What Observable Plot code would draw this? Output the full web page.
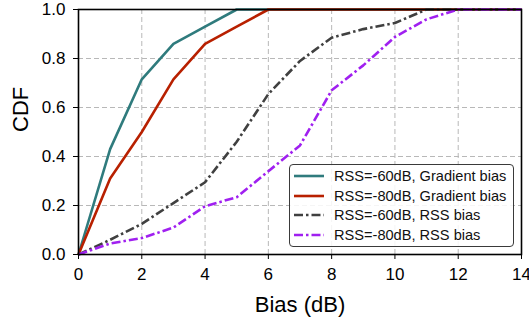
<!DOCTYPE html>
<html>
<head>
<meta charset="utf-8">
<script src="https://cdn.jsdelivr.net/npm/d3@7"></script>
<script src="https://cdn.jsdelivr.net/npm/@observablehq/plot@0.6"></script>
<style>
  html, body { margin: 0; padding: 0; background: white; }
  #wrap { position: relative; width: 529px; height: 322px; font-family: "Liberation Sans", Arial, sans-serif; }
  #legend { position: absolute; left: 289px; top: 164px; width: 223px; height: 81px;
    border: 1px solid #3a3a3a; border-radius: 4px; background: rgba(255,255,255,0.85); box-sizing: content-box; }
  .row { position: absolute; left: 0; height: 20px; display: flex; align-items: center; }
  .row svg { margin-left: 4px; margin-right: 10px; }
  .row span { font-size: 14.6px; color: #111; white-space: nowrap; }
</style>
</head>
<body>
<div id="wrap"></div>
<script>
const bias = [0,1,2,3,4,5,6,7,8,9,10,11,12,13,14];
const grad60 = [0,0.43,0.715,0.86,0.93,1,1,1,1,1,1,1,1,1,1];
const grad80 = [0,0.31,0.5,0.715,0.86,0.93,1,1,1,1,1,1,1,1,1];
const rss60  = [0,0.06,0.125,0.21,0.295,0.46,0.655,0.79,0.885,0.92,0.945,1,1,1,1];
const rss80  = [0,0.045,0.067,0.11,0.197,0.234,0.34,0.445,0.67,0.772,0.888,0.96,1,1,1];
const seriesNames = ["RSS=-60dB, Gradient bias","RSS=-80dB, Gradient bias","RSS=-60dB, RSS bias","RSS=-80dB, RSS bias"];
const seriesValues = [grad60, grad80, rss60, rss80];
const seriesColors = ["#2f7b7d","#b82000","#404040","#a020f0"];
const seriesDash = [null, null, "9,3,2.5,3", "9,3,2.5,3"];
const xTicks = [0,2,4,6,8,10,12,14];
const yTicks = [0,0.2,0.4,0.6,0.8,1.0];

const rows = [];
seriesValues.forEach((vals, i) => vals.forEach((v, j) => rows.push({s: i, x: bias[j], y: v})));

const lineMarks = seriesValues.map((_, i) =>
  Plot.line(rows.filter(d => d.s === i), {x: "x", y: "y", stroke: seriesColors[i], strokeWidth: 2.6,
    strokeDasharray: seriesDash[i] || undefined, strokeLinejoin: "round", strokeLinecap: "butt"}));

const chart = Plot.plot({
  width: 529, height: 322,
  marginLeft: 78, marginRight: 8, marginTop: 9, marginBottom: 68,
  x: {domain: [0, 14]},
  y: {domain: [0, 1]},
  style: {fontFamily: "Liberation Sans, Arial, sans-serif", fontSize: "17px", color: "black", background: "white", overflow: "visible"},
  marks: [
    Plot.gridX(xTicks, {stroke: "#b8b8b8", strokeOpacity: 1, strokeDasharray: "5,3", strokeWidth: 1}),
    Plot.gridY(yTicks, {stroke: "#b8b8b8", strokeOpacity: 1, strokeDasharray: "5,3", strokeWidth: 1}),
    ...lineMarks,
    Plot.frame({stroke: "black", strokeWidth: 1.6}),
    Plot.axisX({ticks: xTicks, tickSize: 5, tickPadding: 8, tickFormat: d => String(d), label: null, fontSize: 17}),
    Plot.axisY({ticks: yTicks, tickSize: 5, tickPadding: 8, tickFormat: d3.format(".1f"), label: null, fontSize: 17}),
    Plot.text(["Bias (dB)"], {frameAnchor: "bottom", lineAnchor: "middle", dy: 50, fontSize: 22, fill: "black"}),
    Plot.text(["CDF"], {frameAnchor: "left", rotate: -90, dx: -58, fontSize: 22, fill: "black"})
  ]
});
const wrap = document.getElementById("wrap");
wrap.appendChild(chart);

const legend = document.createElement("div");
legend.id = "legend";
seriesNames.forEach((name, i) => {
  const row = document.createElement("div");
  row.className = "row";
  row.style.top = (1 + i * 19.7) + "px";
  const ns = "http://www.w3.org/2000/svg";
  const s = document.createElementNS(ns, "svg");
  s.setAttribute("width", 30); s.setAttribute("height", 6);
  const l = document.createElementNS(ns, "line");
  l.setAttribute("x1", 0); l.setAttribute("x2", 30); l.setAttribute("y1", 3); l.setAttribute("y2", 3);
  l.setAttribute("stroke", seriesColors[i]); l.setAttribute("stroke-width", 2.6);
  if (seriesDash[i]) l.setAttribute("stroke-dasharray", seriesDash[i]);
  s.appendChild(l);
  const t = document.createElement("span");
  t.textContent = name;
  row.appendChild(s); row.appendChild(t);
  legend.appendChild(row);
});
wrap.appendChild(legend);
</script>
</body>
</html>
